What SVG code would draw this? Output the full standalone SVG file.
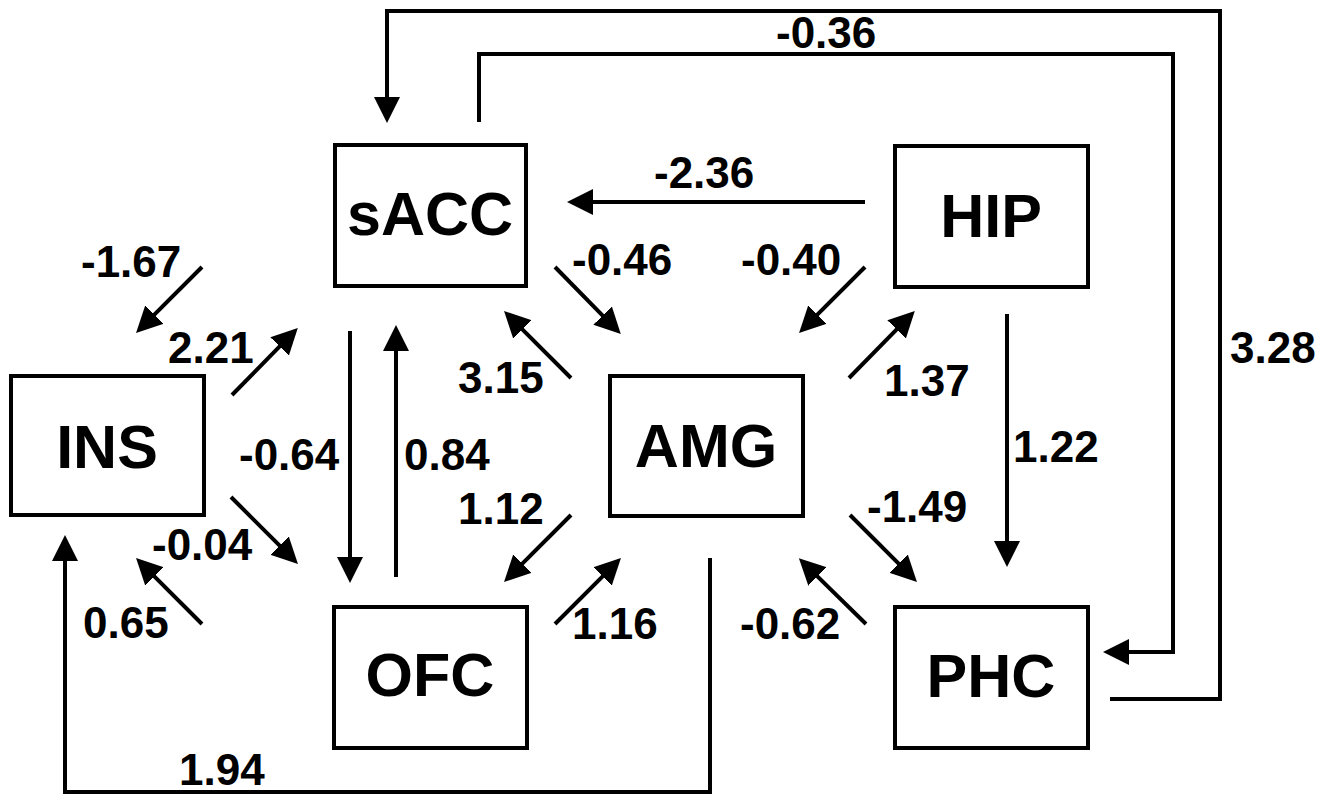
<svg xmlns="http://www.w3.org/2000/svg" width="1336" height="796" viewBox="0 0 1336 796">
<style>
.box{fill:#fff;stroke:#000;stroke-width:4}
.nt{font-family:"Liberation Sans",Arial,sans-serif;font-weight:bold;font-size:61px;fill:#000;text-anchor:middle}
.el{font-family:"Liberation Sans",Arial,sans-serif;font-weight:bold;font-size:44px;fill:#000}
.c{fill:none;stroke:#000;stroke-width:4;stroke-linejoin:miter}
</style>
<defs>
<marker id="ah" markerUnits="userSpaceOnUse" markerWidth="26" markerHeight="26" refX="4" refY="13" orient="auto">
<path d="M0,0 L26,13 L0,26 z" fill="#000"/>
</marker>
</defs>
<rect width="1336" height="796" fill="#fff"/>
<g id="connectors">
<path class="c" marker-end="url(#ah)" d="M1110,699 H1220 V11 H387 V101"/>
<path class="c" marker-end="url(#ah)" d="M479,122 V54 H1173 V652 H1125"/>
<path class="c" marker-end="url(#ah)" d="M710,558 V792 H65 V557"/>
<path class="c" marker-end="url(#ah)" d="M865,202 H589"/>
<path class="c" marker-end="url(#ah)" d="M350,331 V561"/>
<path class="c" marker-end="url(#ah)" d="M396,577 V347"/>
<path class="c" marker-end="url(#ah)" d="M1007,314 V545"/>
<path class="c" marker-end="url(#ah)" d="M202,267 L151.6,317.4"/>
<path class="c" marker-end="url(#ah)" d="M232,395 L282.4,343.6"/>
<path class="c" marker-end="url(#ah)" d="M555,267 L605.4,318.4"/>
<path class="c" marker-end="url(#ah)" d="M571,378 L519.6,326.6"/>
<path class="c" marker-end="url(#ah)" d="M865,267 L814.6,317.4"/>
<path class="c" marker-end="url(#ah)" d="M849,378 L899.4,326.6"/>
<path class="c" marker-end="url(#ah)" d="M231,497 L282.4,548.4"/>
<path class="c" marker-end="url(#ah)" d="M202,624 L151.6,573.6"/>
<path class="c" marker-end="url(#ah)" d="M571,515 L519.6,566.4"/>
<path class="c" marker-end="url(#ah)" d="M555,624 L605.4,573.6"/>
<path class="c" marker-end="url(#ah)" d="M850,515 L901.4,566.4"/>
<path class="c" marker-end="url(#ah)" d="M866,624 L814.6,573.6"/>
</g>
<g id="labels">
<text class="el" x="81" y="277">-1.67</text>
<text class="el" x="168" y="363">2.21</text>
<text class="el" x="572" y="275">-0.46</text>
<text class="el" x="458" y="393">3.15</text>
<text class="el" x="654" y="188">-2.36</text>
<text class="el" x="741" y="275">-0.40</text>
<text class="el" x="884" y="396">1.37</text>
<text class="el" x="239" y="470">-0.64</text>
<text class="el" x="404" y="470">0.84</text>
<text class="el" x="458" y="524">1.12</text>
<text class="el" x="152" y="560">-0.04</text>
<text class="el" x="83" y="638">0.65</text>
<text class="el" x="572" y="639">1.16</text>
<text class="el" x="179" y="785">1.94</text>
<text class="el" x="776" y="48">-0.36</text>
<text class="el" x="1230" y="363">3.28</text>
<text class="el" x="1013" y="462">1.22</text>
<text class="el" x="867" y="522">-1.49</text>
<text class="el" x="740" y="639">-0.62</text>
</g>
<g id="sACC"><rect class="box" x="335" y="145" width="191" height="141"/><text class="nt" x="430" y="235">sACC</text></g>
<g id="HIP"><rect class="box" x="895" y="146" width="193" height="141"/><text class="nt" x="991" y="237">HIP</text></g>
<g id="INS"><rect class="box" x="11" y="376" width="193" height="139"/><text class="nt" x="107" y="468">INS</text></g>
<g id="AMG"><rect class="box" x="610" y="376" width="193" height="140"/><text class="nt" x="706" y="467">AMG</text></g>
<g id="OFC"><rect class="box" x="334" y="607" width="193" height="141"/><text class="nt" x="430" y="696">OFC</text></g>
<g id="PHC"><rect class="box" x="895" y="607" width="193" height="141"/><text class="nt" x="991" y="697">PHC</text></g>
</svg>
